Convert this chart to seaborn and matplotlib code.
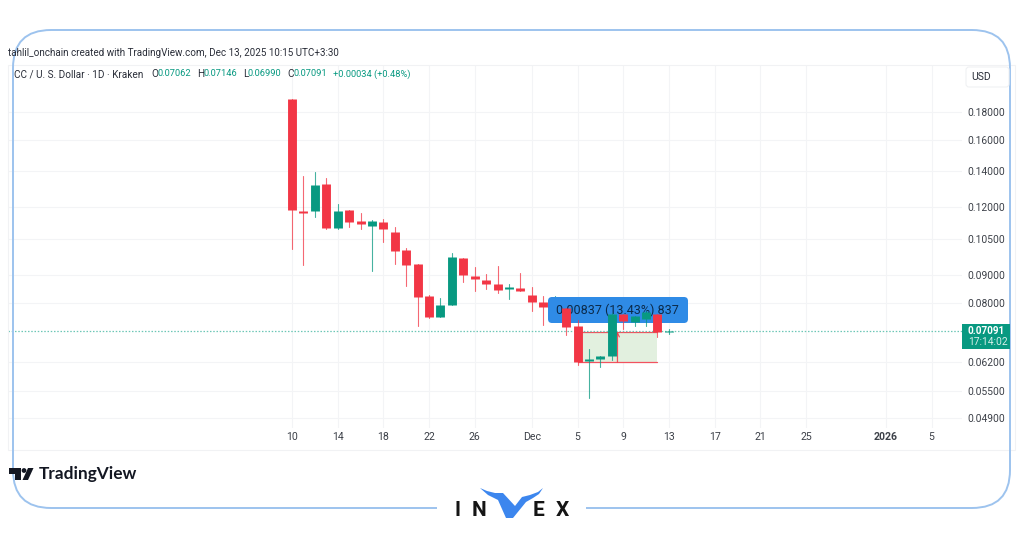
import matplotlib
matplotlib.use("Agg")
import matplotlib.pyplot as plt
import matplotlib.patches as mpatches
import matplotlib.ticker as mticker
import numpy as np
import pandas as pd
import seaborn as sns

# candles (Nov 10 -> Dec 13 2025, daily)
opens = [0.1902, 0.1183, 0.1183, 0.1327, 0.1097, 0.1186, 0.1133, 0.1107, 0.1129, 0.1079, 0.1002, 0.0941,
         0.0823, 0.0751, 0.0791, 0.0967, 0.0897, 0.0882, 0.0865, 0.0847, 0.0851, 0.0827, 0.0801, 0.0784,
         0.0783, 0.0724, 0.0625, 0.0629, 0.0638, 0.0762, 0.0736, 0.0746, 0.0762, 0.07062]
highs = [0.1902, 0.1371, 0.1394, 0.1361, 0.1217, 0.1186, 0.1173, 0.1135, 0.1140, 0.1102, 0.1008, 0.0941,
         0.0825, 0.0815, 0.0987, 0.0968, 0.0932, 0.0902, 0.0935, 0.0866, 0.0906, 0.0854, 0.0823, 0.0823,
         0.0783, 0.0743, 0.0657, 0.0637, 0.0764, 0.0763, 0.0756, 0.0772, 0.0763, 0.07146]
lows = [0.1005, 0.0939, 0.1153, 0.1093, 0.1093, 0.1102, 0.1096, 0.0915, 0.1036, 0.0943, 0.0857, 0.0724,
        0.0749, 0.0751, 0.0791, 0.0874, 0.0841, 0.0847, 0.0834, 0.0811, 0.0839, 0.0771, 0.0726, 0.0770,
        0.0697, 0.0613, 0.0534, 0.0607, 0.0627, 0.0716, 0.0724, 0.0724, 0.0692, 0.06990]
closes = [0.1186, 0.1171, 0.1322, 0.1100, 0.1183, 0.1129, 0.1118, 0.1133, 0.1096, 0.0996, 0.0940, 0.0820,
          0.0751, 0.0792, 0.0971, 0.0900, 0.0884, 0.0867, 0.0845, 0.0854, 0.0840, 0.0801, 0.0784, 0.0790,
          0.0721, 0.0622, 0.0630, 0.0636, 0.0762, 0.0741, 0.0755, 0.0770, 0.0707, 0.07091]
dates = pd.date_range("2025-11-10", periods=len(opens), freq="D")

price_ticks = [0.18, 0.16, 0.14, 0.12, 0.105, 0.09, 0.08, 0.062, 0.055, 0.049]
date_ticks = pd.to_datetime(["2025-11-10", "2025-11-14", "2025-11-18", "2025-11-22", "2025-11-26", "2025-12-01",
                             "2025-12-05", "2025-12-09", "2025-12-13", "2025-12-17", "2025-12-21", "2025-12-25",
                             "2026-01-01", "2026-01-05"])
date_labels = ["10", "14", "18", "22", "26", "Dec", "5", "9", "13", "17", "21", "25", "2026", "5"]

last_price = 0.07091
countdown = "17:14:02"
measure_start, measure_end = pd.Timestamp("2025-12-05"), pd.Timestamp("2025-12-12")
measure_low, measure_high = 0.0621, 0.0707
measure_text = "0.00837 (13.43%) 837"
header = "tahlil_onchain created with TradingView.com, Dec 13, 2025 10:15 UTC+3:30"
symbol = "CC / U. S. Dollar · 1D · Kraken"
ohlc_keys = ["O", "H", "L", "C"]
ohlc_values = ["0.07062", "0.07146", "0.06990", "0.07091"]
change = "+0.00034 (+0.48%)"

UP, DOWN = "#089981", "#F23645"
FRAME = "#9DC3EE"
GRID = "#F3F4F6"
TEXT = "#3C4048"

sns.set_style("white")
plt.rcParams["font.family"] = ["Roboto", "DejaVu Sans"]

W, H = 1024, 538
fig = plt.figure(figsize=(W / 100, H / 100), dpi=100)

# chart pane, pixel box -> axes limits
left, right, top, bottom = 8, 962, 65, 428
px_per_day = 11.42
px_per_log = 235
ax = fig.add_axes([left / W, 1 - bottom / H, (right - left) / W, (bottom - top) / H])
ax.set_yscale("log")

# overlay in pixel coordinates for the page furniture
ov = fig.add_axes([0, 0, 1, 1], zorder=10)
ov.set_xlim(0, W)
ov.set_ylim(H, 0)
ov.axis("off")
ov.patch.set_alpha(0)

direction = ["up" if c >= o else "down" for o, c in zip(opens, closes)]
candles = pd.DataFrame({"date": dates, "open": opens, "high": highs, "low": lows, "close": closes, "direction": direction})
palette = {"up": UP, "down": DOWN}

# the Dec 3 candle sits under the measure label, the rest above it
hidden = candles["date"] == pd.Timestamp("2025-12-03")
for part, z in [(candles[hidden], 2.5), (candles[~hidden], 5)]:
    wicks = part.melt(id_vars=["date", "direction"], value_vars=["low", "high"], value_name="price")
    bodies = part.melt(id_vars=["date", "direction"], value_vars=["open", "close"], value_name="price")
    sns.lineplot(data=wicks, x="date", y="price", hue="direction", units="date", estimator=None, palette=palette,
                 hue_order=["up", "down"], legend=False, linewidth=0.8, alpha=0.75, zorder=z, ax=ax)
    sns.lineplot(data=bodies, x="date", y="price", hue="direction", units="date", estimator=None, palette=palette,
                 hue_order=["up", "down"], legend=False, linewidth=6.4, solid_capstyle="butt", zorder=z + 0.1, ax=ax)

# measure tool
ax.fill_between([measure_start, measure_end], measure_low, measure_high, color="#E2F0DF", lw=0, zorder=2)
ax.plot([measure_start, measure_end], [measure_low, measure_low], color=DOWN, lw=0.9, alpha=0.85, zorder=2.2)
ax.plot([measure_start, measure_end], [measure_high, measure_high], color=DOWN, lw=0.9, alpha=0.85, zorder=2.2)
measure_mid = measure_start + (measure_end - measure_start) * 0.5
ax.annotate("", xy=(measure_mid, measure_high), xytext=(measure_mid, measure_low),
            arrowprops=dict(arrowstyle="->", color=DOWN, lw=0.9, alpha=0.85, mutation_scale=7, shrinkA=0, shrinkB=0), zorder=2.2)
ax.add_patch(mpatches.FancyBboxPatch((552, 301), 132, 18, boxstyle="round,pad=4,rounding_size=4", fc="#2F8BE6", ec="none",
                                     transform=ov.transData, zorder=3))
ax.text(measure_mid, 0.0775, measure_text, ha="center", va="center", fontsize=9, color="#0B2A4A", zorder=3.2)

ax.axhline(last_price, color="#6CC7B6", lw=0.9, ls=(0, (1.2, 1.4)), zorder=4)

day0 = dates[0]
ax.set_xlim(day0 + pd.Timedelta(days=(left - 292) / px_per_day), day0 + pd.Timedelta(days=(right - 292) / px_per_day))
ax.set_ylim(0.18 * np.exp(-(bottom - 112) / px_per_log), 0.18 * np.exp(-(top - 112) / px_per_log))

ax.yaxis.tick_right()
ax.yaxis.set_major_locator(mticker.FixedLocator(price_ticks))
ax.yaxis.set_major_formatter(mticker.FuncFormatter(lambda v, p: f"{v:.5f}"))
ax.yaxis.set_minor_locator(mticker.NullLocator())
ax.set_xticks(date_ticks)
ax.set_xticklabels(date_labels)
ax.tick_params(axis="x", length=0, labelsize=7.6, labelcolor=TEXT, pad=3)
ax.tick_params(axis="y", length=0, labelsize=7.4, labelcolor=TEXT, pad=4)
for lab, txt in zip(ax.get_xticklabels(), date_labels):
    if txt == "2026":
        lab.set_fontweight("bold")
ax.grid(True, color=GRID, lw=0.8)
ax.set_axisbelow(True)
ax.set_xlabel("")
ax.set_ylabel("")
for s in ax.spines.values():
    s.set_visible(False)
ax.patch.set_alpha(0)

ov.add_patch(mpatches.Rectangle((8, 65), 1007, 385, fill=False, ec="#F1F2F4", lw=0.8))

# rounded frame, open at the logo
ov.add_patch(mpatches.FancyBboxPatch((13 + 38, 30 + 38), 997 - 76, 478 - 76, boxstyle="round,pad=38,rounding_size=38",
                                     fill=False, ec=FRAME, lw=1.4))
ov.add_patch(mpatches.Rectangle((437, 503), 149, 10, fc="white", ec="none", zorder=3))

ov.text(8, 53, header, fontsize=7.1, color="#2A2E39", va="center")
ov.text(14, 74, symbol, fontsize=7.2, color="#2A2E39", va="center")
key_x = [151, 197, 243, 287]
val_x = [158, 204, 248, 293]
for k, v, kx, vx in zip(ohlc_keys, ohlc_values, key_x, val_x):
    ov.text(kx, 74, k, fontsize=7.2, color="#2A2E39", va="center")
    ov.text(vx, 74, v, fontsize=6.7, color=UP, va="center")
ov.text(333, 74, change, fontsize=6.7, color=UP, va="center")

# USD box and last price tag
ov.add_patch(mpatches.FancyBboxPatch((967, 68), 41, 18, boxstyle="round,pad=1,rounding_size=3", fc="white", ec="#F0F1F3", lw=0.8))
ov.text(971, 77, "USD", fontsize=7.5, color="#2A2E39", va="center")
ov.add_patch(mpatches.Rectangle((962, 324), 48, 25, fc=UP, ec="none"))
ov.text(968, 331, f"{last_price:.5f}", fontsize=7.2, color="white", fontweight="bold", va="center")
ov.text(968, 342, countdown, fontsize=7.4, color="#D5EFE8", va="center")

# TradingView logo
ov.add_patch(mpatches.Polygon([(9, 468), (20.5, 468), (20.5, 480), (15, 480), (15, 473.5), (9, 473.5)], fc="#131722", ec="none", zorder=5))
ov.add_patch(mpatches.Circle((24, 470.5), 2.4, fc="#131722", ec="none", zorder=5))
ov.add_patch(mpatches.Polygon([(33.5, 468), (28, 468), (22.5, 480), (28, 480)], fc="#131722", ec="none", zorder=5))
ov.text(39, 474, "TradingView", fontsize=12.4, fontweight="bold", color="#131722", va="center", family="Lato", zorder=5)

# INVEX logo
for ch, x in zip(["I", "N", "E", "X"], [458, 479, 538, 562]):
    ov.text(x, 511, ch, fontsize=15, fontweight="bold", color="#151515", ha="center", va="center", zorder=5)
ov.add_patch(mpatches.Polygon([(480, 488), (487, 491), (495, 493), (503, 493), (515, 506), (522, 497), (530, 495),
                               (538, 492), (543, 488), (539, 494), (533, 498), (526, 502), (513, 518), (506, 518),
                               (498, 500), (488, 495)], fc="#3C86EE", ec="none", zorder=5))

fig.savefig("out.png", dpi=100)
